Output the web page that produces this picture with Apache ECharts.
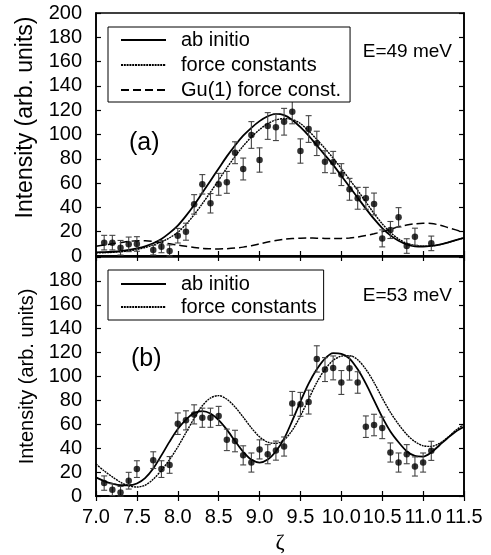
<!DOCTYPE html>
<html>
<head>
<meta charset="utf-8">
<script src="https://cdn.jsdelivr.net/npm/echarts@6/dist/echarts.min.js"></script>
<style>
html, body { margin: 0; padding: 0; background: #fff; }
#chart { width: 491px; height: 555px; }
</style>
</head>
<body>
<div id="chart"></div>
<script>
// zeta grid of the calculated curves
var zeta = [7.0, 7.1, 7.2, 7.3, 7.4, 7.5, 7.6, 7.7, 7.8, 7.9,
            8.0, 8.1, 8.2, 8.3, 8.4, 8.5, 8.6, 8.7, 8.8, 8.9,
            9.0, 9.1, 9.2, 9.3, 9.4, 9.5, 9.6, 9.7, 9.8, 9.9,
            10.0, 10.1, 10.2, 10.3, 10.4, 10.5, 10.6, 10.7, 10.8, 10.9,
            11.0, 11.1, 11.2, 11.3, 11.4, 11.5];

// (a) E=49 meV
var abInitioA = [3, 3.2, 3.5, 4, 5, 6.3, 8, 10.5, 14, 19,
                 25, 33, 42, 52, 62, 72, 82, 91, 99, 105.5,
                 111, 115, 117, 116, 112, 106, 99, 91, 83, 75,
                 66, 57, 48, 39, 30.5, 23, 17, 12.5, 9.5, 8,
                 7.8, 8.3, 9.3, 11, 13, 15];
var forceConstA = [2.5, 2.7, 3, 3.4, 4.2, 5.3, 7, 9, 11.5, 15,
                   19.5, 26, 34, 43, 52.5, 62.5, 72.5, 82, 90.5, 98,
                   104, 109, 112, 113, 112.5, 109, 103, 96, 88.5, 80.5,
                   72, 63, 54, 44.5, 35, 26.5, 19.5, 14, 10.5, 8.7,
                   8, 8.3, 9.3, 11, 13, 15];
var guForceA = [8, 9, 10, 11, 12, 12.5, 12.5, 12, 11, 10,
                9, 8, 7, 6.3, 6, 5.8, 6, 6.5, 7.3, 8.5,
                10, 11.5, 12.8, 13.8, 14.4, 14.7, 14.8, 14.7, 14.5, 14.4,
                14.5, 14.9, 15.6, 16.8, 18.3, 20, 22, 24, 25.5, 26.5,
                27, 26.7, 25.5, 23.5, 21.5, 19.5];

var expXA = [7.1, 7.2, 7.3, 7.4, 7.5, 7.7, 7.8, 7.9,
             8.0, 8.1, 8.2, 8.3, 8.4, 8.5, 8.6, 8.7, 8.8, 8.9,
             9.0, 9.1, 9.2, 9.3, 9.4, 9.5, 9.6, 9.7, 9.8, 9.9,
             10.0, 10.1, 10.2, 10.3, 10.4, 10.5, 10.6, 10.7, 10.8, 10.9, 11.1];
var expYA = [11, 11, 6.8, 9.6, 9.9, 4.9, 7.7, 4.1,
             16.7, 20, 42.5, 59, 43.4, 59, 60.6, 85, 71.6, 99.6,
             79, 107, 106, 110.5, 118.8, 86.4, 104.5, 92.7, 77.6, 77.1,
             67, 54.9, 47.5, 47.5, 42.8, 14.5, 21.4, 31.8, 8.2, 15.9, 10.4];
var expErrA = [6, 6, 6, 6, 6, 4, 5, 5,
               6, 7, 8, 8, 8, 9, 9, 9, 9, 11,
               10, 11, 11, 11, 10, 10, 11, 10, 9, 9,
               9, 9, 9, 9, 9, 7, 7, 8, 6, 7, 6];

// (b) E=53 meV
var abInitioB = [15.6, 12.5, 10.3, 9, 9, 10.5, 15, 23, 34, 45.5,
                 56, 64, 69.5, 71, 69, 63.5, 55.5, 46, 37, 30.5,
                 28, 30.5, 37.5, 48, 63, 79, 94, 106, 115, 119.5,
                 119, 115, 106, 94, 80, 66, 54, 45, 37.5, 33.5,
                 33, 36.5, 42.5, 48.5, 54, 58];
var forceConstB = [26.7, 21, 16, 11.5, 8.5, 7.5, 9, 14, 21.5, 30.5,
                   41, 53, 65, 75.5, 82, 84, 81, 74.5, 66, 57,
                   49.5, 45, 44, 47, 55, 67, 81, 95, 106, 113.5,
                   117, 117.5, 114, 106, 95, 82, 70, 60, 51.5, 45.5,
                   42, 41.5, 44, 49, 55, 60];

var expXB = [7.1, 7.2, 7.3, 7.4, 7.5, 7.7, 7.8, 7.9,
             8.0, 8.1, 8.2, 8.3, 8.4, 8.5, 8.6, 8.7, 8.8, 8.9,
             9.0, 9.1, 9.2, 9.3, 9.4, 9.5, 9.6, 9.7, 9.8, 9.9,
             10.0, 10.1, 10.2, 10.3, 10.4, 10.5, 10.6, 10.7, 10.8, 10.9,
             11.0, 11.1];
var expYB = [10.8, 5.3, 3, 12.8, 22.5, 30, 22.5, 26,
             60.5, 63.3, 68.3, 65.5, 65.5, 67, 47, 46, 34, 28,
             39, 35, 38, 41.4, 77.5, 76.7, 78.6, 114.7, 105.8, 107.2,
             95, 107, 95, 58, 59.4, 57, 36.4, 28, 35, 24.7,
             28, 37.8];
var expErrB = [6, 5, 5, 7, 7, 7, 7, 7,
               9, 8, 8, 8, 8, 8, 9, 9, 8, 8,
               8, 8, 8, 8, 10, 10, 10, 11, 10, 10,
               10, 10, 9, 9, 9, 9, 8, 8, 8, 8,
               8, 8];

var FONT = '"Liberation Sans", Arial, sans-serif';

function pairs(xs, ys) {
    var out = [];
    for (var i = 0; i < xs.length; i++) out.push([xs[i], ys[i]]);
    return out;
}

function triples(xs, ys, es) {
    var out = [];
    for (var i = 0; i < xs.length; i++) out.push([xs[i], ys[i], es[i]]);
    return out;
}

function renderErrorBar(params, api) {
    var x = api.value(0), y = api.value(1), e = api.value(2);
    var hi = api.coord([x, y + e]);
    var lo = api.coord([x, Math.max(0, y - e)]);
    var hw = 3;
    var st = { stroke: '#444', lineWidth: 1.1 };
    return {
        type: 'group',
        children: [
            { type: 'line', shape: { x1: hi[0], y1: hi[1], x2: lo[0], y2: lo[1] }, style: st },
            { type: 'line', shape: { x1: hi[0] - hw, y1: hi[1], x2: hi[0] + hw, y2: hi[1] }, style: st },
            { type: 'line', shape: { x1: lo[0] - hw, y1: lo[1], x2: lo[0] + hw, y2: lo[1] }, style: st }
        ]
    };
}

var tick = { inside: true, length: 5, lineStyle: { color: '#000', width: 1.2 } };
var axisLine = { lineStyle: { color: '#000', width: 1.6 } };

function xAxis(grid, pos, labels) {
    var ax = {
        type: 'value', gridIndex: grid, position: pos,
        min: 7, max: 11.5, interval: 0.5,
        axisLine: axisLine, axisTick: tick, splitLine: { show: false },
        axisLabel: { show: labels, color: '#000', fontFamily: FONT, fontSize: 20, margin: 11,
                     formatter: function (v) { return v.toFixed(1); } }
    };
    return ax;
}

function yAxis(grid, pos, labels) {
    return {
        type: 'value', gridIndex: grid, position: pos,
        min: 0, max: 200, interval: 20,
        axisLine: axisLine, axisTick: tick, splitLine: { show: false },
        axisLabel: { show: labels, color: '#000', fontFamily: FONT, fontSize: 20, margin: 14,
                     formatter: function (v) { return (grid === 1 && v === 200) ? '' : v; } }
    };
}

function curve(name, xi, yi, data, lineStyle) {
    return {
        type: 'line', name: name, xAxisIndex: xi, yAxisIndex: yi,
        data: data, symbol: 'none', showSymbol: false, smooth: 0.3,
        lineStyle: lineStyle, itemStyle: { color: '#000' }, z: 2
    };
}

var solid = { color: '#000', width: 1.8 };
var dotted = { color: '#000', width: 1.4, type: [2, 0.8] };
var dashed = { color: '#000', width: 1.5, type: [8, 4] };

var yLeftA = yAxis(0, 'left', true);
yLeftA.name = 'Intensity (arb. units)';
yLeftA.nameLocation = 'middle';
yLeftA.nameGap = 59;
yLeftA.nameTextStyle = { color: '#000', fontFamily: FONT, fontSize: 23, padding: [0, 0, 0, 34] };

var yLeftB = yAxis(1, 'left', true);
yLeftB.name = 'Intensity (arb. units)';
yLeftB.nameLocation = 'middle';
yLeftB.nameGap = 58;
yLeftB.nameTextStyle = { color: '#000', fontFamily: FONT, fontSize: 20 };

var xBottomB = xAxis(1, 'bottom', true);
xBottomB.name = 'ζ';
xBottomB.nameLocation = 'middle';
xBottomB.nameGap = 36;
xBottomB.nameTextStyle = { color: '#000', fontFamily: '"Liberation Serif", serif', fontSize: 22 };

var legendText = { color: '#000', fontFamily: FONT, fontSize: 20, padding: [0, 0, 0, 10] };
var legendIcon = { color: 'transparent', borderWidth: 0, opacity: 0 };

var option = {
    animation: false,
    backgroundColor: '#fff',
    grid: [
        { left: 96, top: 13, width: 368, height: 243, show: true, borderColor: '#000', borderWidth: 1.6 },
        { left: 96, top: 257, width: 368, height: 240, show: true, borderColor: '#000', borderWidth: 1.6 }
    ],
    xAxis: [xAxis(0, 'bottom', false), xAxis(0, 'top', false), xBottomB, xAxis(1, 'top', false)],
    yAxis: [yLeftA, yAxis(0, 'right', false), yLeftB, yAxis(1, 'right', false)],
    legend: [
        {
            left: 108, top: 27, orient: 'vertical', itemWidth: 45, itemHeight: 14, itemGap: 5,
            padding: [3, 9, 2, 12], borderColor: '#000', borderWidth: 1, backgroundColor: '#fff',
            textStyle: legendText, itemStyle: legendIcon, selectedMode: false,
            data: ['ab initio', 'force constants', 'Gu(1) force const.']
        },
        {
            left: 108, top: 270, orient: 'vertical', itemWidth: 45, itemHeight: 14, itemGap: 3,
            padding: [4, 7, 3, 12], borderColor: '#000', borderWidth: 1, backgroundColor: '#fff',
            textStyle: legendText, itemStyle: legendIcon, selectedMode: false,
            data: ['ab initio', 'force constants']
        }
    ],
    graphic: [
        { type: 'text', right: 39, top: 42, style: { text: 'E=49 meV', fill: '#000', font: '19px ' + FONT } },
        { type: 'text', left: 129, top: 131, style: { text: '(a)', fill: '#000', font: '25px ' + FONT } },
        { type: 'text', right: 39, top: 286, style: { text: 'E=53 meV', fill: '#000', font: '19px ' + FONT } },
        { type: 'text', left: 131, top: 347, style: { text: '(b)', fill: '#000', font: '25px ' + FONT } }
    ],
    series: [
        curve('ab initio', 0, 0, pairs(zeta, abInitioA), solid),
        curve('force constants', 0, 0, pairs(zeta, forceConstA), dotted),
        curve('Gu(1) force const.', 0, 0, pairs(zeta, guForceA), dashed),
        {
            type: 'custom', xAxisIndex: 0, yAxisIndex: 0, renderItem: renderErrorBar,
            data: triples(expXA, expYA, expErrA), z: 3
        },
        {
            type: 'scatter', xAxisIndex: 0, yAxisIndex: 0, symbolSize: 6.5,
            itemStyle: { color: '#000' }, data: pairs(expXA, expYA), z: 4
        },
        curve('ab initio', 2, 2, pairs(zeta, abInitioB), solid),
        curve('force constants', 2, 2, pairs(zeta, forceConstB), dotted),
        {
            type: 'custom', xAxisIndex: 2, yAxisIndex: 2, renderItem: renderErrorBar,
            data: triples(expXB, expYB, expErrB), z: 3
        },
        {
            type: 'scatter', xAxisIndex: 2, yAxisIndex: 2, symbolSize: 6.5,
            itemStyle: { color: '#000' }, data: pairs(expXB, expYB), z: 4
        }
    ]
};

var chart = echarts.init(document.getElementById('chart'));
chart.setOption(option);
</script>
</body>
</html>
